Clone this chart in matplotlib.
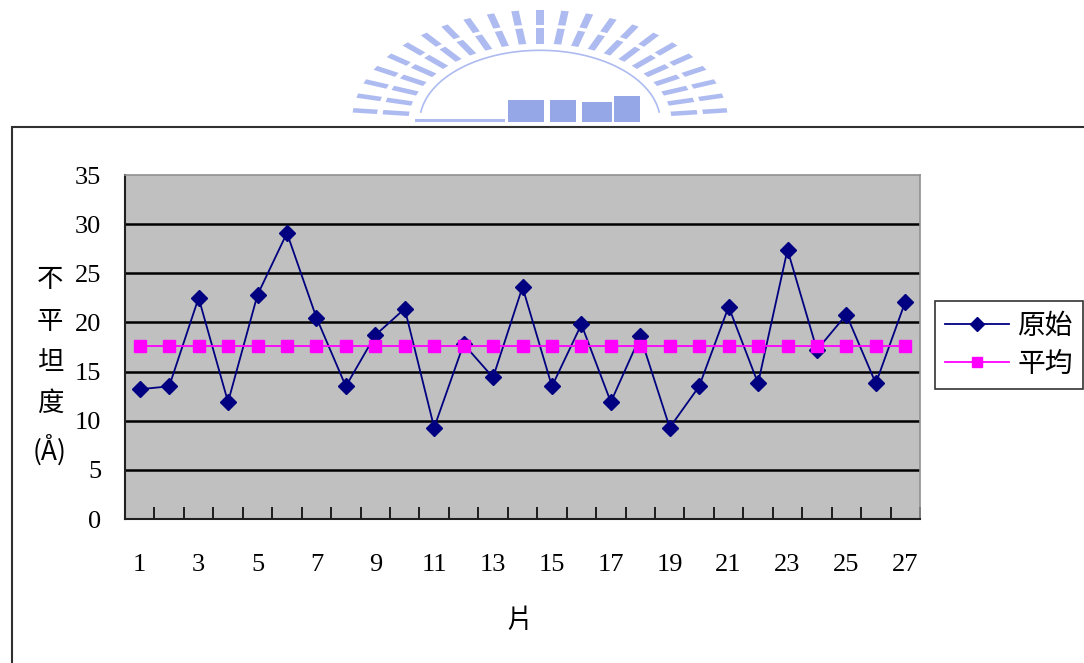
import matplotlib.pyplot as plt
import numpy as np
from matplotlib.patches import Rectangle, Polygon

# roughness per piece
pieces = list(range(1, 28))
original = [13.2, 13.5, 22.5, 11.9, 22.8, 29.1, 20.5, 13.5, 18.7, 21.4,
            9.3, 17.8, 14.4, 23.6, 13.5, 19.8, 11.9, 18.6, 9.3, 13.5,
            21.6, 13.8, 27.4, 17.2, 20.8, 13.8, 22.1]
average = [17.6] * 27
xtick_labels = [str(i) for i in range(1, 28, 2)]

plt.rcParams['font.family'] = ['Liberation Serif', 'Noto Sans CJK TC']
cjk = ['Noto Sans CJK TC', 'DejaVu Sans']

W, H = 1084, 663
fig = plt.figure(figsize=(W / 100, H / 100), dpi=100)


def fx(px):
    return px / W


def fy(py):
    return 1 - py / H


# faded logo at the top
logo_col = '#aebbf0'
cx, cy = 540, 122
rx, ry = 188, 112
for ang in np.linspace(6, 174, 23):
    a = np.radians(ang)
    ux, uy = np.cos(a), np.sin(a)
    tx, ty = -uy, ux
    hw = 0.02
    for r0, r1 in [(0.70, 0.84), (0.87, 1.0)]:
        pts = []
        for r, s in [(r0, -hw), (r1, -hw), (r1, hw), (r0, hw)]:
            px = cx + rx * (r * ux + s * tx)
            py = cy - ry * (r * uy + s * ty)
            pts.append((fx(px), fy(py)))
        fig.patches.append(Polygon(pts, closed=True, transform=fig.transFigure,
                                   facecolor=logo_col, edgecolor='none'))
th = np.radians(np.linspace(8, 172, 80))
fig.lines.append(plt.Line2D(fx(cx + 0.64 * rx * np.cos(th)),
                            fy(cy - 0.64 * ry * np.sin(th)),
                            transform=fig.transFigure, color=logo_col, lw=1.2))
for x0, w, h in [(508, 36, 22), (550, 26, 22), (582, 30, 20), (614, 26, 26)]:
    fig.patches.append(Rectangle((fx(x0), fy(cy)), w / W, h / H,
                                 transform=fig.transFigure,
                                 facecolor='#96a7e8', edgecolor='none'))
fig.patches.append(Rectangle((fx(415), fy(cy)), 90 / W, 3 / H,
                             transform=fig.transFigure,
                             facecolor=logo_col, edgecolor='none'))

# outer chart frame
fig.patches.append(Rectangle((fx(12), fy(680)), 1100 / W, (680 - 127) / H,
                             transform=fig.transFigure, facecolor='none',
                             edgecolor='#303030', lw=1.5))

ax = fig.add_axes([fx(125), fy(519), (920 - 125) / W, (519 - 175) / H])
ax.set_facecolor('#c0c0c0')

ax.plot(pieces, original, color='#000080', lw=1.3, marker='D', ms=8,
        label='原始', zorder=3)
ax.plot(pieces, average, color='#ff00ff', lw=1.3, marker='s', ms=8,
        label='平均', zorder=3)

ax.set_xlim(0.5, 27.5)
ax.set_ylim(0, 35)
ax.set_yticks(range(0, 36, 5))
ax.tick_params(axis='y', length=0, pad=17, labelsize=19)
ax.set_xticks(range(1, 28, 2))
ax.set_xticklabels(xtick_labels)
ax.set_xticks(np.arange(0.5, 28, 1), minor=True)
ax.tick_params(axis='x', which='major', length=0, pad=25, labelsize=19)
ax.tick_params(axis='x', which='minor', direction='in', length=9,
               width=1.2, color='black')
for y in range(5, 35, 5):
    ax.axhline(y, color='black', lw=1.8, zorder=1)
for side in ['left', 'bottom']:
    ax.spines[side].set_color('#202020')
    ax.spines[side].set_linewidth(1.5)
for side in ['top', 'right']:
    ax.spines[side].set_color('#909090')
    ax.spines[side].set_linewidth(1.2)

fig.text(fx(50), fy(366), '不\n平\n坦\n度\n(Å)', ha='center', va='center',
         fontsize=19, linespacing=1.68, family=cjk)
fig.text(fx(520), fy(620), '片', ha='center', va='center', fontsize=19,
         family=cjk)

leg = ax.legend(loc='center', bbox_to_anchor=(fx(1009), fy(345)),
                bbox_transform=fig.transFigure, prop={'family': cjk, 'size': 20},
                frameon=True, fancybox=False, edgecolor='black',
                handlelength=2.3, borderpad=0.35, labelspacing=0.3,
                handletextpad=0.3, borderaxespad=0)
leg.get_frame().set_linewidth(1.2)
for h in leg.legend_handles:
    h.set_markersize(7)

fig.savefig('out.png', dpi=100)
